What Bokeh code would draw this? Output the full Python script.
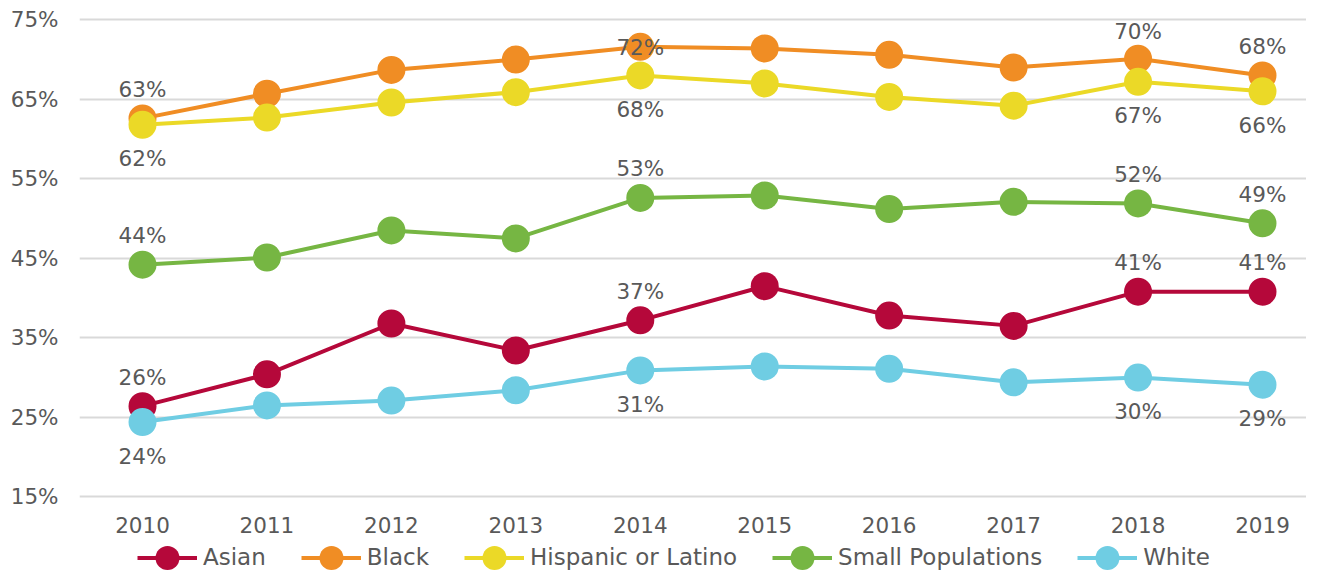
from bokeh.plotting import figure
from bokeh.layouts import column
from bokeh.models import Range1d, FixedTicker, PrintfTickFormatter, Legend, LegendItem, ColumnDataSource
from bokeh.core.properties import value
from bokeh.embed import file_html
from bokeh.resources import INLINE

# ---- data ----
years = [2010, 2011, 2012, 2013, 2014, 2015, 2016, 2017, 2018, 2019]
asian = [26.4, 30.4, 36.8, 33.4, 37.2, 41.5, 37.8, 36.5, 40.8, 40.8]
black = [62.6, 65.7, 68.7, 70.0, 71.6, 71.4, 70.6, 69.0, 70.1, 68.0]
hispanic = [61.8, 62.7, 64.6, 65.9, 68.0, 67.0, 65.3, 64.2, 67.2, 66.0]
small_populations = [44.2, 45.1, 48.5, 47.5, 52.6, 52.9, 51.2, 52.1, 51.9, 49.4]
white = [24.4, 26.5, 27.1, 28.4, 30.9, 31.4, 31.1, 29.4, 30.0, 29.1]
series_names = ["Asian", "Black", "Hispanic or Latino", "Small Populations", "White"]
y_ticks = [15, 25, 35, 45, 55, 65, 75]
label_years = [2010, 2014, 2018, 2019]

# ---- styles ----
colors = ["#B5083A", "#F08D24", "#EBD927", "#76B643", "#6FCDE3"]
label_side = ["above", "above", "below", "above", "below"]
FONT = "DejaVu Sans"
TXT = "#595959"

p = figure(width=1306, height=541, output_backend="svg", toolbar_location=None,
           x_range=Range1d(2009.4937, 2019.3536), y_range=Range1d(14.535, 75.918),
           min_border_left=79, min_border_right=0, min_border_top=12, min_border_bottom=41)
p.outline_line_color = None
p.background_fill_color = "white"
p.border_fill_color = "white"

p.xgrid.visible = False
p.ygrid.ticker = FixedTicker(ticks=y_ticks)
p.ygrid.grid_line_color = "#D9D9D9"
p.ygrid.grid_line_width = 2

p.yaxis.ticker = FixedTicker(ticks=y_ticks)
p.yaxis.formatter = PrintfTickFormatter(format="%d%%")
p.xaxis.ticker = FixedTicker(ticks=years)
for ax in (p.xaxis, p.yaxis):
    ax.axis_line_color = None
    ax.major_tick_line_color = None
    ax.minor_tick_line_color = None
    ax.major_tick_out = 0
    ax.major_tick_in = 0
    ax.major_label_text_font = FONT
    ax.major_label_text_font_size = "21.5px"
    ax.major_label_text_color = TXT
p.yaxis.major_label_standoff = 21
p.xaxis.major_label_standoff = 16

all_series = [asian, black, hispanic, small_populations, white]
for name, vals, col in zip(series_names, all_series, colors):
    src = ColumnDataSource(dict(x=years, y=vals))
    p.line("x", "y", source=src, line_color=col, line_width=4)
    p.scatter("x", "y", source=src, size=28, fill_color=col, line_color=None)

# data labels
for name, vals, col, side in zip(series_names, all_series, colors, label_side):
    lx, ly, lt, off = [], [], [], []
    for yr, v in zip(years, vals):
        if yr in label_years:
            lx.append(yr)
            ly.append(v)
            lt.append(f"{round(v)}%")
            o = -29 if side == "above" else 34
            if name == "Black" and yr == 2014:
                o = 1
            if name == "Black" and yr == 2018:
                o = -27
            off.append(o)
    src = ColumnDataSource(dict(x=lx, y=ly, t=lt, off=off))
    p.text("x", "y", text="t", source=src, y_offset="off", text_align="center",
           text_baseline="middle", text_font=value(FONT), text_font_size="21.5px",
           text_color=TXT)

# ---- legend strip ----
lg = figure(width=1306, height=29, output_backend="svg", toolbar_location=None,
            x_range=Range1d(0, 1), y_range=Range1d(0, 1),
            x_axis_location=None, y_axis_location=None,
            min_border_left=0, min_border_right=0, min_border_top=0, min_border_bottom=0)
lg.outline_line_color = None
lg.xgrid.visible = False
lg.ygrid.visible = False
items = []
for name, col in zip(series_names, colors):
    dsrc = ColumnDataSource(dict(x=[-10], y=[-10]))
    lr = lg.line("x", "y", source=dsrc, line_color=col, line_width=4)
    sr = lg.scatter("x", "y", source=dsrc, size=28, fill_color=col, line_color=None)
    items.append(LegendItem(label=name, renderers=[lr, sr]))

legend = Legend(items=items, orientation="horizontal", location=(58, -19.5),
                glyph_width=60, glyph_height=65, label_standoff=6, spacing=35,
                padding=0, margin=0, border_line_color=None, background_fill_alpha=0,
                label_text_font=FONT, label_text_font_size="23px", label_text_color=TXT)
lg.add_layout(legend, "center")

open("out.html", "w").write(file_html(column(p, lg, spacing=0), INLINE))
